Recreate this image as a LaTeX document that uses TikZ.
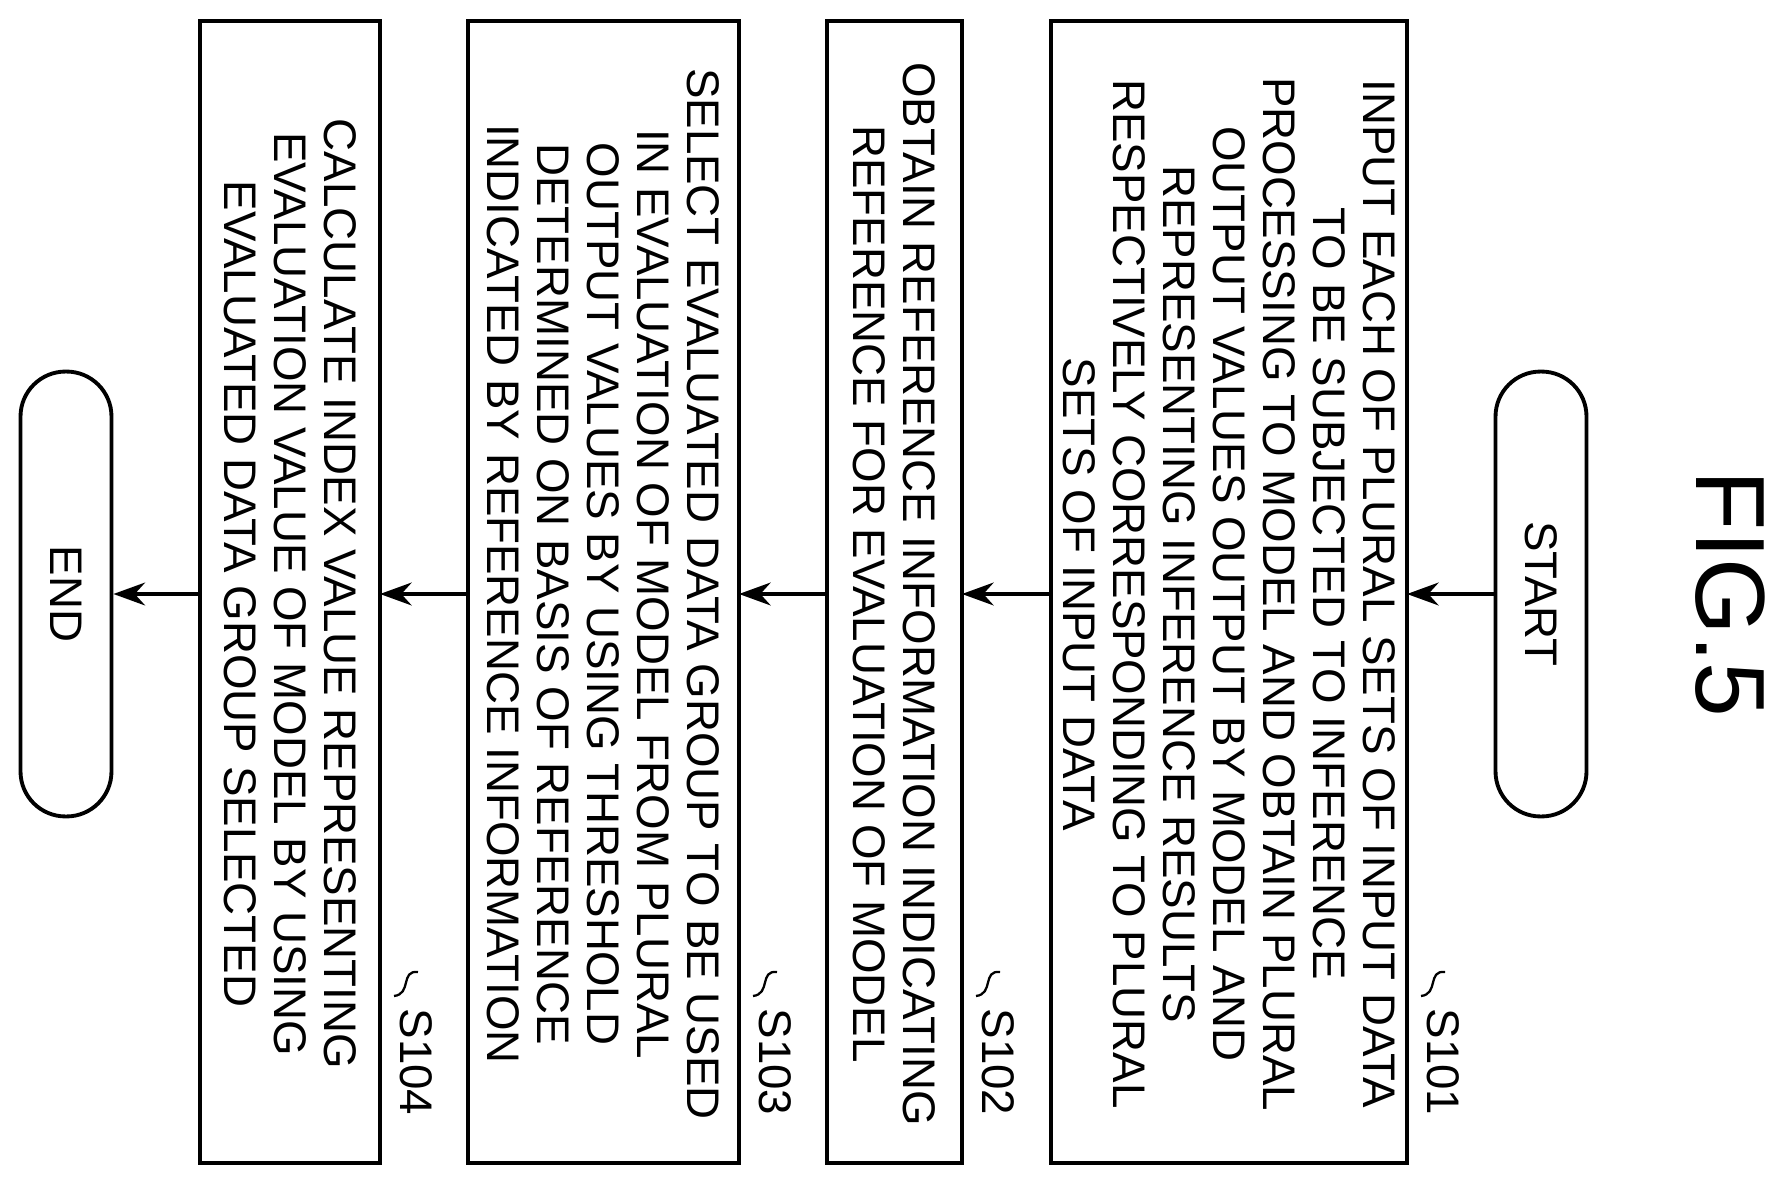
\documentclass[tikz,border=0pt]{standalone}
\usepackage{fontspec}
\setmainfont{Liberation Sans}
\usetikzlibrary{arrows.meta}
\begin{document}
\begin{tikzpicture}[x=0.02cm,y=-0.02cm,
  stepbox/.style={rotate=-90,align=center,inner sep=0pt,
    font=\fontsize{26}{28.5}\selectfont},
  term/.style={draw,line width=2.2pt,rounded corners=0.9cm,minimum width=8.9cm,minimum height=1.82cm,
    rotate=-90,font=\fontsize{26}{28}\selectfont},
  lbl/.style={rotate=-90,font=\fontsize{26}{28}\selectfont},
  flow/.style={-{Stealth[length=18pt,width=13pt]},line width=2pt}]
  \useasboundingbox (0,0) rectangle (1781,1179);

  \node[rotate=-90,font=\fontsize{56}{56}\selectfont] (fig) at (1730,594) {FIG.5};

  \node[term] (start) at (1541,594) {START};
  \node[term] (end) at (66,594) {END};

  \draw[line width=2.2pt] (1051,21) rectangle (1407,1163);
  \node[stepbox] (s1) at (1229,594) {INPUT EACH OF PLURAL SETS OF INPUT DATA\\TO BE SUBJECTED TO INFERENCE\\PROCESSING TO MODEL AND OBTAIN PLURAL\\OUTPUT VALUES OUTPUT BY MODEL AND\\REPRESENTING INFERENCE RESULTS\\RESPECTIVELY CORRESPONDING TO PLURAL\\SETS OF INPUT DATA};
  \draw[line width=2.2pt] (827,21) rectangle (962,1163);
  \node[stepbox] (s2) at (894,594) {OBTAIN REFERENCE INFORMATION INDICATING\\REFERENCE FOR EVALUATION OF MODEL};
  \draw[line width=2.2pt] (468,21) rectangle (739,1163);
  \node[stepbox] (s3) at (603,594) {SELECT EVALUATED DATA GROUP TO BE USED\\IN EVALUATION OF MODEL FROM PLURAL\\OUTPUT VALUES BY USING THRESHOLD\\DETERMINED ON BASIS OF REFERENCE\\INDICATED BY REFERENCE INFORMATION};
  \draw[line width=2.2pt] (200,21) rectangle (380,1163);
  \node[stepbox] (s4) at (290,594) {CALCULATE INDEX VALUE REPRESENTING\\EVALUATION VALUE OF MODEL BY USING\\EVALUATED DATA GROUP SELECTED};

  \coordinate (b1l) at (1051,594); \coordinate (b1r) at (1407,594);
  \coordinate (b2l) at (827,594);  \coordinate (b2r) at (962,594);
  \coordinate (b3l) at (468,594);  \coordinate (b3r) at (739,594);
  \coordinate (b4l) at (200,594);  \coordinate (b4r) at (380,594);
  \draw[flow] (start) -- (b1r);
  \draw[flow] (b1l) -- (b2r);
  \draw[flow] (b2l) -- (b3r);
  \draw[flow] (b3l) -- (b4r);
  \draw[flow] (b4l) -- (end);

  \foreach \x/\t in {1407/S101,962/S102,739/S103,380/S104} {
    \draw[line width=1.3pt] (\x+38,972) .. controls (\x+20,970) and (\x+32,994) .. (\x+14,996);
    \node[lbl,anchor=south] at (\x+14,1062) {\t};
  }
\end{tikzpicture}
\end{document}
